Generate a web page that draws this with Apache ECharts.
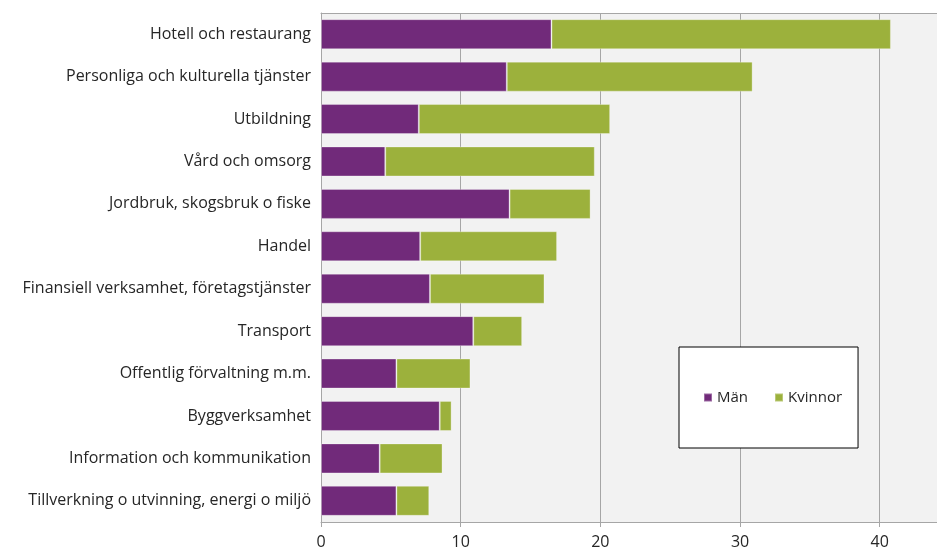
<!DOCTYPE html>
<html lang="sv">
  <head>
    <meta charset="UTF-8" />
    <title>Män och kvinnor per bransch</title>
    <style>
      html, body { margin: 0; padding: 0; background: #fff; }
      #main { width: 937px; height: 550px; }
    </style>
  </head>
  <body>
    <div id="main"></div>
    <script src="https://cdn.jsdelivr.net/npm/echarts@6/dist/echarts.min.js"></script>
    <script>
      const categories = [
        'Hotell och restaurang',
        'Personliga och kulturella tjänster',
        'Utbildning',
        'Vård och omsorg',
        'Jordbruk, skogsbruk o fiske',
        'Handel',
        'Finansiell verksamhet, företagstjänster',
        'Transport',
        'Offentlig förvaltning m.m.',
        'Byggverksamhet',
        'Information och kommunikation',
        'Tillverkning o utvinning, energi o miljö'
      ]
      const man = [16.5, 13.3, 7.0, 4.6, 13.5, 7.1, 7.8, 10.9, 5.4, 8.5, 4.2, 5.4]
      const kvinnor = [24.3, 17.6, 13.7, 15.0, 5.8, 9.8, 8.2, 3.5, 5.3, 0.85, 4.5, 2.35]

      const grey = '#a6a6a6'
      const textColor = '#262626'
      const font = 'Open Sans, Liberation Sans, sans-serif'

      let chart = echarts.init(document.getElementById('main'))
      let option = {
        animation: false,
        textStyle: { fontFamily: font },
        grid: {
          left: 321,
          top: 13,
          right: 0,
          bottom: 27,
          show: true,
          backgroundColor: '#f2f2f2',
          borderWidth: 0
        },
        legend: {
          left: 679,
          top: 347,
          padding: [43, 16, 43, 24],
          itemWidth: 8,
          itemHeight: 8,
          itemGap: 26,
          icon: 'rect',
          backgroundColor: '#fff',
          borderColor: '#000',
          borderWidth: 1,
          textStyle: { fontSize: 15, color: textColor, fontFamily: font },
          data: ['Män', 'Kvinnor']
        },
        xAxis: [
          {
            type: 'value',
            min: 0,
            max: 44.1,
            interval: 10,
            axisLine: { show: true, lineStyle: { color: grey } },
            axisTick: { show: true, length: 5, lineStyle: { color: grey } },
            splitLine: { show: true, lineStyle: { color: grey } },
            axisLabel: {
              fontSize: 16,
              color: textColor,
              margin: 12,
              showMaxLabel: false
            }
          },
          {
            // top border only
            type: 'value',
            position: 'top',
            min: 0,
            max: 44.1,
            axisLine: { show: true, lineStyle: { color: grey } },
            axisTick: { show: false },
            axisLabel: { show: false },
            splitLine: { show: false }
          }
        ],
        yAxis: {
          type: 'category',
          inverse: true,
          data: categories,
          axisLine: { show: true, lineStyle: { color: grey } },
          axisTick: { show: false },
          axisLabel: { fontSize: 16, color: textColor, margin: 10 }
        },
        series: [
          {
            name: 'Män',
            type: 'bar',
            stack: 'total',
            barWidth: 30,
            itemStyle: { color: '#712a7a', borderColor: 'rgba(255,255,255,0.3)', borderWidth: 1 },
            data: man
          },
          {
            name: 'Kvinnor',
            type: 'bar',
            stack: 'total',
            barWidth: 30,
            itemStyle: { color: '#9cb13c', borderColor: 'rgba(255,255,255,0.3)', borderWidth: 1 },
            data: kvinnor
          }
        ]
      }
      chart.setOption(option)
    </script>
  </body>
</html>
